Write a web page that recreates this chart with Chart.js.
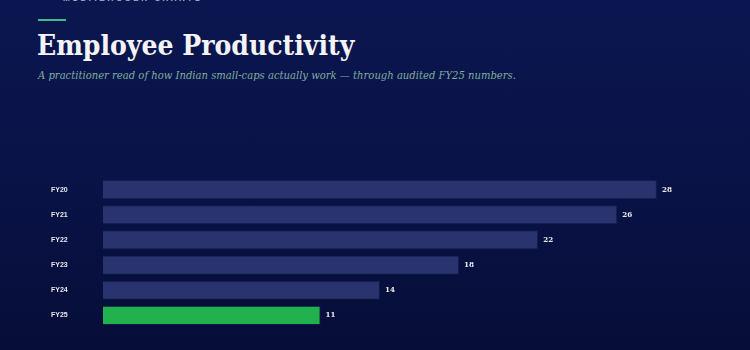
<!DOCTYPE html>
<html>
<head>
<meta charset="utf-8">
<script src="https://cdn.jsdelivr.net/npm/chart.js@4"></script>
<style>
  html, body { margin: 0; padding: 0; }
  body {
    width: 750px; height: 350px; overflow: hidden; position: relative;
    background: linear-gradient(180deg, #0b1650 0%, #091347 50%, #060d38 100%);
    font-family: Georgia, "DejaVu Serif", serif;
  }
  .brand {
    position: absolute; left: 38px; top: -6px; color: #9fb0c8;
    font: bold 8px "Liberation Sans", Arial, sans-serif; letter-spacing: 2.5px;
  }
  .brand span { display: inline-block; width: 17px; height: 2px; background: #3dbb8c; vertical-align: middle; margin-right: 8px; }
  .accent { position: absolute; left: 38px; top: 19px; width: 28px; height: 2px; background: #3dbb8c; }
  h1 {
    position: absolute; left: 37px; top: 29px; margin: 0; color: #f4f4f6;
    font: bold 28px Georgia, "DejaVu Serif Condensed", "DejaVu Serif", serif;
  }
  .sub {
    position: absolute; left: 38px; top: 69px; margin: 0; color: #7fae9e;
    font: italic 11.15px Georgia, "DejaVu Serif Condensed", "DejaVu Serif", serif;
  }
  .wrap { position: absolute; left: 0; top: 170px; width: 750px; height: 180px; }
</style>
</head>
<body>
<div class="brand"><span></span>MULTIBAGGER CHARTS</div>
<div class="accent"></div>
<h1>Employee Productivity</h1>
<p class="sub">A practitioner read of how Indian small-caps actually work — through audited FY25 numbers.</p>
<div class="wrap"><canvas id="productivityChart"></canvas></div>
<script>
const years = ['FY20', 'FY21', 'FY22', 'FY23', 'FY24', 'FY25'];
const productivity = [28, 26, 22, 18, 14, 11];
const barColors = ['#29346f', '#29346f', '#29346f', '#29346f', '#29346f', '#22b14f'];

const valueLabels = {
    id: 'valueLabels',
    afterDatasetsDraw(chart) {
        const ctx = chart.ctx;
        const meta = chart.getDatasetMeta(0);
        ctx.save();
        ctx.font = 'bold 8px Georgia, "DejaVu Serif Condensed", "DejaVu Serif", serif';
        ctx.fillStyle = '#e8e8ee';
        ctx.textBaseline = 'middle';
        meta.data.forEach((bar, i) => {
            ctx.fillText(productivity[i], bar.x + 5, bar.y);
        });
        ctx.restore();
    }
};

const ctx = document.getElementById('productivityChart').getContext('2d');
const productivityChart = new Chart(ctx, {
    type: 'bar',
    data: {
        labels: years,
        datasets: [{
            label: 'Employee productivity',
            data: productivity,
            backgroundColor: barColors,
            borderColor: 'rgba(255,255,255,0.05)',
            borderWidth: 1,
            barPercentage: 0.76,
            categoryPercentage: 1
        }]
    },
    options: {
        indexAxis: 'y',
        responsive: true,
        maintainAspectRatio: false,
        animation: false,
        layout: { padding: { left: 51, right: 14, top: 7, bottom: 22 } },
        plugins: { legend: { display: false }, tooltip: { enabled: false } },
        scales: {
            x: { display: false, min: 0, max: 32 },
            y: {
                grid: { display: false },
                border: { display: false },
                afterFit(scale) { scale.width = 52; },
                ticks: {
                    crossAlign: 'far',
                    padding: 0,
                    color: '#e6e6ec',
                    font: { family: '"Liberation Sans", Arial, sans-serif', size: 7, weight: 'bold' }
                }
            }
        }
    },
    plugins: [valueLabels]
});
</script>
</body>
</html>
